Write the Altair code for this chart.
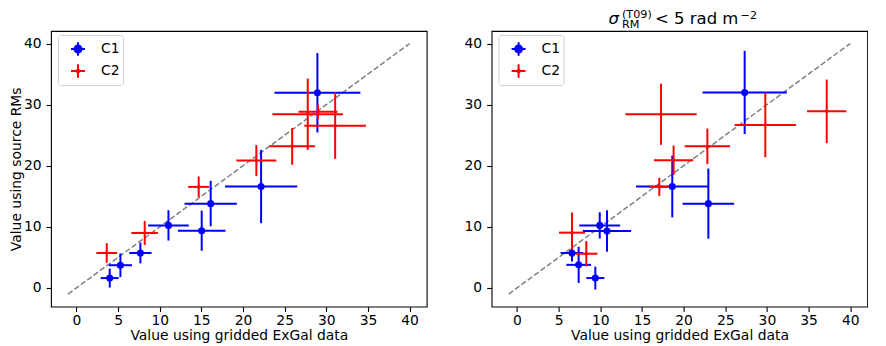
import altair as alt
import pandas as pd

# ---------------- data ----------------
series_names = ["C1", "C2"]
series_colors = ["#0000ff", "#ff0000"]
tick_values = [0, 5, 10, 15, 20, 25, 30, 35, 40]
diag_x = [-1, 40]
diag_y = [-1, 40]

# left panel
L_C1_x = [4.0, 5.28, 7.68, 11.05, 15.04, 16.12, 22.17, 28.93]
L_C1_y = [1.62, 3.72, 5.72, 10.24, 9.37, 13.8, 16.6, 31.94]
L_C1_xerr = [1.08, 1.4, 1.34, 2.44, 2.86, 3.14, 4.34, 5.16]
L_C1_yerr = [1.56, 1.94, 1.7, 2.48, 3.28, 3.72, 6.0, 6.5]
L_C2_x = [3.64, 8.2, 14.68, 21.6, 25.9, 27.77, 29.0, 31.06]
L_C2_y = [5.72, 9.0, 16.54, 20.84, 23.17, 28.43, 28.82, 26.56]
L_C2_xerr = [1.24, 1.6, 1.26, 2.4, 2.74, 4.24, 2.34, 3.7]
L_C2_yerr = [1.6, 1.97, 1.7, 2.53, 3.0, 5.84, 1.2, 5.44]

# right panel
R_C1_x = [9.4, 7.4, 6.6, 9.93, 10.8, 22.97, 18.64, 27.33]
R_C1_y = [1.62, 3.78, 5.72, 10.24, 9.32, 13.8, 16.6, 32.0]
R_C1_xerr = [1.08, 1.48, 1.36, 2.46, 2.9, 3.1, 4.36, 5.06]
R_C1_yerr = [1.88, 2.96, 1.4, 2.15, 3.39, 5.74, 5.06, 6.8]
R_C2_x = [6.6, 8.32, 17.08, 18.8, 22.85, 17.29, 37.18, 29.81]
R_C2_y = [9.05, 5.6, 16.54, 20.9, 23.17, 28.43, 28.9, 26.66]
R_C2_xerr = [1.56, 1.34, 1.16, 2.36, 2.72, 4.28, 2.36, 3.68]
R_C2_yerr = [3.3, 2.07, 1.48, 2.4, 2.9, 5.0, 5.2, 5.27]

x_title = "Value using gridded ExGal data"
y_title = "Value using source RMs"

# ---------------- helpers ----------------
FONT = "DejaVu Sans"
FS = 13.9
PANEL_W = 375.7
PANEL_H = 275.6

C1_PATH = ("M-0.7,0H0.7M0,-0.67V0.67"
           "M-0.35,0A0.35,0.35,0,1,0,0.35,0A0.35,0.35,0,1,0,-0.35,0Z")
C2_PATH = ("M-0.7,0H0.7M0,-0.67V0.67"
           "M-0.13,0A0.13,0.13,0,1,0,0.13,0A0.13,0.13,0,1,0,-0.13,0Z")


def build_frames(sets):
    pts, segs = [], []
    for name, xs, ys, xe, ye in sets:
        for x, y, dx, dy in zip(xs, ys, xe, ye):
            pts.append(dict(series=name, x=x, y=y))
            segs.append(dict(series=name, x1=x - dx, x2=x + dx, y1=y, y2=y))
            segs.append(dict(series=name, x1=x, x2=x, y1=y - dy, y2=y + dy))
    return pd.DataFrame(pts), pd.DataFrame(segs)


def text_piece(txt, px, py, size, italic=False):
    return alt.Chart(alt.Data(values=[{"k": 1}])).mark_text(
        align="left", baseline="alphabetic", fontSize=size, font=FONT,
        fontStyle="italic" if italic else "normal", color="black",
    ).encode(x=alt.value(px), y=alt.value(py), text=alt.value(txt))


def make_panel(sets, show_ytitle, extra_layers):
    pts_df, seg_df = build_frames(sets)
    diag_df = pd.DataFrame({"x": diag_x, "y": diag_y})
    xs = alt.Scale(domain=[-3.05, 42.05], nice=False, zero=False)
    ys = alt.Scale(domain=[-3.05, 42.05], nice=False, zero=False)
    xaxis = alt.Axis(values=tick_values, title=x_title, grid=False)
    yaxis = alt.Axis(values=tick_values, title=y_title if show_ytitle else None, grid=False)
    cscale = alt.Scale(domain=series_names, range=series_colors)

    diag = alt.Chart(diag_df).mark_line(
        color="#808080", strokeWidth=1.5, strokeDash=[5.5, 2.4]
    ).encode(x=alt.X("x:Q", scale=xs, axis=xaxis), y=alt.Y("y:Q", scale=ys, axis=yaxis))

    bars = alt.Chart(seg_df).mark_rule(strokeWidth=2).encode(
        x=alt.X("x1:Q", scale=xs), x2="x2:Q",
        y=alt.Y("y1:Q", scale=ys), y2="y2:Q",
        color=alt.Color("series:N", scale=cscale, legend=None),
    )

    markers = alt.Chart(pts_df).mark_point(filled=True, opacity=1).encode(
        x=alt.X("x:Q", scale=xs), y=alt.Y("y:Q", scale=ys),
        color=alt.Color("series:N", scale=cscale, legend=None),
        size=alt.Size("series:N", scale=alt.Scale(domain=series_names, range=[50, 12]), legend=None),
    )

    leg = alt.Legend(
        orient="none", legendX=7, legendY=4, title=None,
        fillColor="white", strokeColor="#d0d0d0", cornerRadius=3, padding=3,
        labelFont=FONT, labelFontSize=FS, labelColor="black",
        symbolSize=400, symbolStrokeWidth=2, symbolOpacity=1,
        symbolOffset=6, labelOffset=12, rowPadding=0,
    )
    legend_layer = alt.Chart(pts_df).mark_point(opacity=0, strokeWidth=2).encode(
        x=alt.X("x:Q", scale=xs), y=alt.Y("y:Q", scale=ys),
        shape=alt.Shape("series:N", scale=alt.Scale(domain=series_names, range=[C1_PATH, C2_PATH]), legend=leg),
        fill=alt.Fill("series:N", scale=cscale, legend=leg),
        stroke=alt.Stroke("series:N", scale=cscale, legend=leg),
    )

    return alt.layer(diag, bars, markers, legend_layer, *extra_layers).properties(
        width=PANEL_W, height=PANEL_H
    )


left = make_panel(
    [("C1", L_C1_x, L_C1_y, L_C1_xerr, L_C1_yerr),
     ("C2", L_C2_x, L_C2_y, L_C2_xerr, L_C2_yerr)],
    True, [],
)

TFS = 16.5
SFS = 11.2
title_layers = [
    text_piece("σ", 117, -6.5, TFS, italic=True),
    text_piece("RM", 130.4, -2.8, SFS),
    text_piece("(T09)", 130.4, -12.6, SFS),
    text_piece("< 5 rad m", 163.4, -6.5, TFS),
    text_piece("−2", 249, -12.4, SFS),
]

right = make_panel(
    [("C1", R_C1_x, R_C1_y, R_C1_xerr, R_C1_yerr),
     ("C2", R_C2_x, R_C2_y, R_C2_xerr, R_C2_yerr)],
    False, title_layers,
)

chart = alt.hconcat(left, right, spacing=34.6, padding=0, background="white").resolve_scale(
    fill="independent", stroke="independent", shape="independent"
).resolve_legend(
    fill="independent", stroke="independent", shape="independent"
).configure_view(
    stroke="black", strokeWidth=1.1
).configure_axis(
    domain=False, ticks=True, tickColor="black", tickSize=4.9, tickWidth=1.1,
    labelFont=FONT, labelFontSize=FS, labelColor="black",
    titleFont=FONT, titleFontSize=FS, titleFontWeight="normal", titleColor="black",
).configure_axisX(titlePadding=1, labelPadding=2).configure_axisY(titlePadding=0, labelPadding=5)

chart.save("out.html", embed_options={"renderer": "svg", "actions": False})
